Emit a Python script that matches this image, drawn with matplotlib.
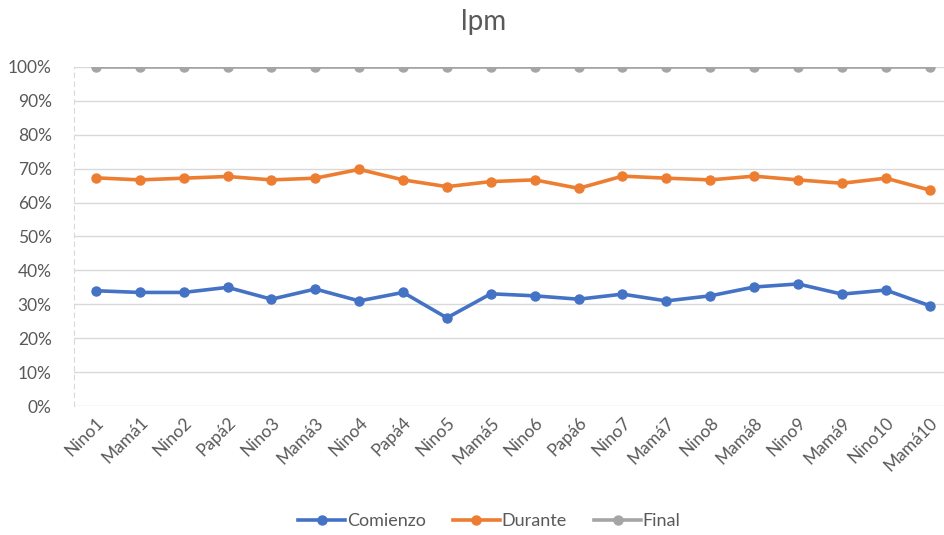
import matplotlib
matplotlib.use("Agg")
import matplotlib.pyplot as plt
from matplotlib.ticker import PercentFormatter

# --- datos ---
categorias = ["Nino1", "Mamá1", "Nino2", "Papá2", "Nino3", "Mamá3", "Nino4",
              "Papá4", "Nino5", "Mamá5", "Nino6", "Papá6", "Nino7", "Mamá7",
              "Nino8", "Mamá8", "Nino9", "Mamá9", "Nino10", "Mamá10"]
comienzo = [34.0, 33.5, 33.5, 35.0, 31.5, 34.5, 31.0, 33.5, 26.0, 33.1,
            32.5, 31.5, 33.0, 31.0, 32.5, 35.1, 36.0, 33.0, 34.2, 29.6]
durante = [67.3, 66.7, 67.2, 67.7, 66.7, 67.2, 69.8, 66.7, 64.7, 66.2,
           66.7, 64.2, 67.8, 67.2, 66.7, 67.8, 66.7, 65.7, 67.2, 63.7]
final = [100.0] * 20

plt.rcParams["font.family"] = ["Lato", "DejaVu Sans"]

fig = plt.figure(figsize=(9.45, 5.35), dpi=100)
ax = fig.add_axes([0.0783, 0.2411, 0.9217, 0.6337])

x = range(len(categorias))
series = [(comienzo, "Comienzo", "#4472C4"),
          (durante, "Durante", "#ED7D31"),
          (final, "Final", "#A5A5A5")]
for vals, nombre, color in series:
    ax.plot(x, [v / 100 for v in vals], color=color, lw=2.6, marker="o",
            markersize=6.5, label=nombre, solid_joinstyle="round")

ax.set_ylim(0, 1)
ax.set_yticks([i / 10 for i in range(11)])
ax.yaxis.set_major_formatter(PercentFormatter(1.0, decimals=0))
ax.set_xlim(-0.5, 19.35)
ax.set_xticks(list(x))
ax.set_xticklabels(categorias, rotation=45, ha="right", rotation_mode="anchor")

ax.grid(axis="y", color="#D9D9D9", lw=1)
ax.set_axisbelow(True)
for s in ["top", "right", "bottom"]:
    ax.spines[s].set_visible(False)
ax.spines["left"].set_color("#D9D9D9")
ax.spines["left"].set_linestyle((0, (4, 4)))
ax.tick_params(length=0, colors="#595959", labelsize=12.5)
ax.tick_params(axis="y", pad=16)
ax.tick_params(axis="x", pad=6)

fig.text(0.512, 0.958, "lpm", color="#595959", fontsize=20,
         ha="center", va="center")

fig.legend(loc="center", bbox_to_anchor=(0.518, 0.026), ncol=3, frameon=False,
           fontsize=13, labelcolor="#595959", handlelength=2.6,
           handletextpad=0.1, columnspacing=1.5)

fig.savefig("out.png", dpi=100)
